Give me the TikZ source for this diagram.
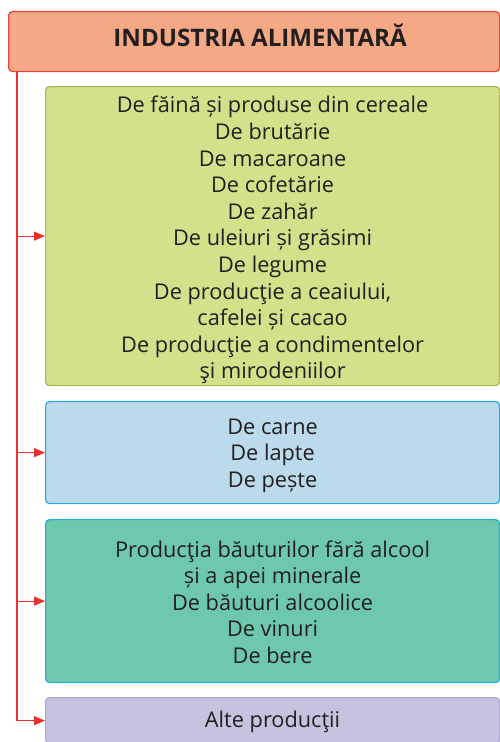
\documentclass[tikz,border=0pt]{standalone}
\usepackage{fontspec}
\setmainfont{Open Sans}
\usetikzlibrary{arrows.meta}
\definecolor{titlefill}{HTML}{F4A984}
\definecolor{titleline}{HTML}{E8403A}
\definecolor{cerealfill}{HTML}{D3E18A}
\definecolor{cerealline}{HTML}{A9B653}
\definecolor{meatfill}{HTML}{BBDAEB}
\definecolor{drinkfill}{HTML}{6DC8AE}
\definecolor{cyanline}{HTML}{20ABE3}
\definecolor{otherfill}{HTML}{C6C3E1}
\definecolor{otherline}{HTML}{ABA5D2}
\definecolor{conn}{HTML}{E8312C}
\definecolor{ink}{HTML}{231F20}
\begin{document}
\begin{tikzpicture}[x=1bp, y=-1bp,
  box/.style={draw, line width=1.2bp, rounded corners=4bp, anchor=north west, inner sep=0pt,
    minimum width=454bp},
  txt/.style={align=center, text=ink, inner sep=0pt, font=\fontsize{21.8}{26.7}\selectfont},
  link/.style={draw=conn, line width=1.1bp, -{Triangle[length=11bp, width=9bp]}}]
\useasboundingbox (0,0) rectangle (500,742);
\node[box, fill=titlefill, draw=titleline, minimum width=491bp, minimum height=60bp] (title) at (8,11) {};
\node[txt, font=\fontsize{24.2}{28}\selectfont\bfseries] (titletext) at ([xshift=6bp, yshift=6bp]title.center)
  {INDUSTRIA ALIMENTARĂ};
\node[box, fill=cerealfill, draw=cerealline, minimum height=299bp] (cereal) at (45,86) {};
\node[txt] (cerealtext) at ([yshift=-4bp]cereal.center)
  {De făină și produse din cereale\\De brutărie\\De macaroane\\De cofetărie\\De zahăr\\
   De uleiuri și grăsimi\\De legume\\De producţie a ceaiului,\\cafelei și cacao\\
   De producţie a condimentelor\\şi mirodeniilor};
\node[box, fill=meatfill, draw=cyanline, minimum height=102bp] (meat) at (45,401) {};
\node[txt] (meattext) at ([yshift=-3bp]meat.center) {De carne\\De lapte\\De pește};
\node[box, fill=drinkfill, draw=cyanline, minimum height=163bp] (drink) at (45,519) {};
\node[txt] (drinktext) at ([yshift=-1bp]drink.center)
  {Producţia băuturilor fără alcool\\și a apei minerale\\De băuturi alcoolice\\De vinuri\\De bere};
\node[box, fill=otherfill, draw=otherline, minimum height=46bp] (other) at (45,697) {};
\node[txt] (othertext) at ([yshift=-1bp]other.center) {Alte producţii};
\coordinate (trunk) at (17,71);
\draw[link] (trunk) |- (other.west);
\foreach \n in {cereal, meat, drink}
  \draw[link] (trunk |- \n.west) -- (\n.west);
\end{tikzpicture}
\end{document}
